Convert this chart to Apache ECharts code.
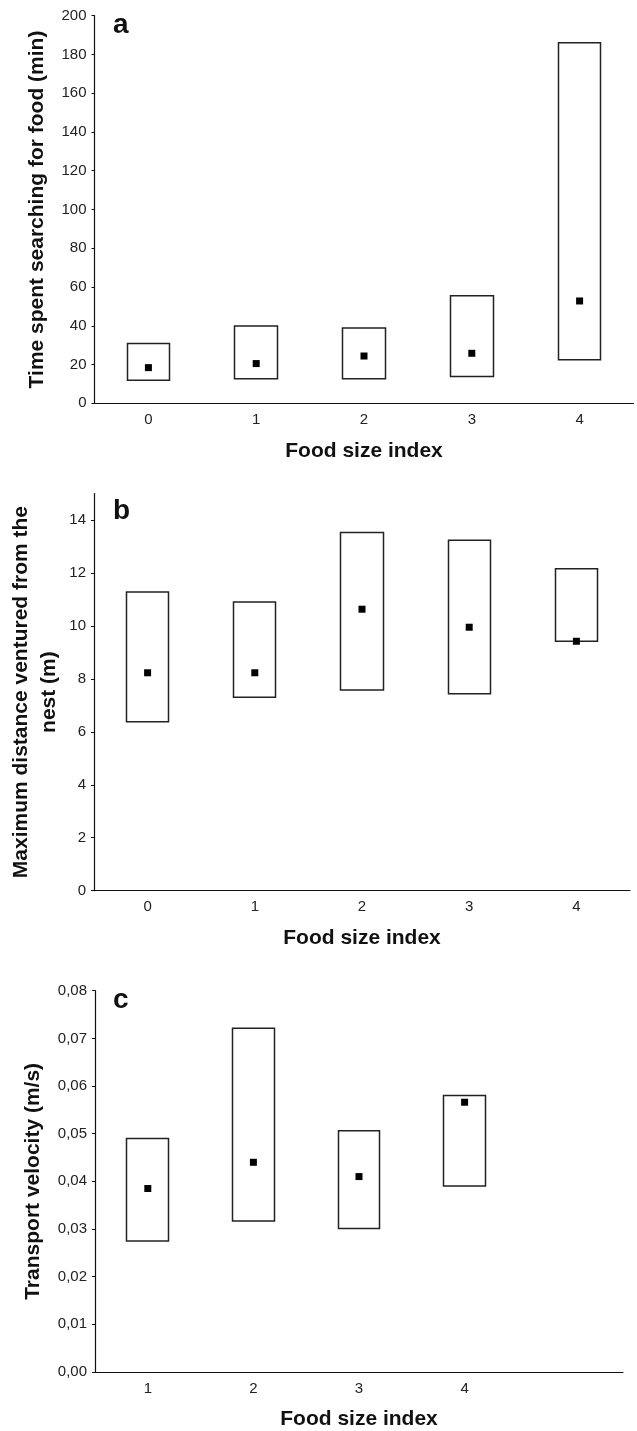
<!DOCTYPE html>
<html>
<head>
<meta charset="utf-8">
<script src="https://cdn.jsdelivr.net/npm/echarts@6/dist/echarts.min.js"></script>
<style>
  html, body { margin: 0; padding: 0; background: #fff; }
  #chart { width: 637px; height: 1431px; }
</style>
</head>
<body>
<div id="chart"></div>
<script>
// panel a - time searching for food
const catsA = ['0', '1', '2', '3', '4']
const lowA = [11.9, 12.7, 12.7, 13.8, 22.5]
const highA = [30.8, 39.9, 38.9, 55.5, 186.1]
const meanA = [18.4, 20.5, 24.4, 25.8, 52.8]

// panel b - max distance from the nest
const catsB = ['0', '1', '2', '3', '4']
const lowB = [6.38, 7.31, 7.58, 7.44, 9.42]
const highB = [11.28, 10.9, 13.53, 13.23, 12.16]
const meanB = [8.23, 8.23, 10.63, 9.95, 9.42]
const ticksB = [0, 2, 4, 6, 8, 10, 12, 14]

// panel c - transport velocity (last slot is empty)
const catsC = ['1', '2', '3', '4', '']
const lowC = [0.0275, 0.0317, 0.0301, 0.039]
const highC = [0.049, 0.0721, 0.0506, 0.058]
const meanC = [0.0385, 0.044, 0.041, 0.0566]

const FONT = 'Liberation Sans, Arial, sans-serif'
const chart = echarts.init(document.getElementById('chart'), null, { renderer: 'canvas' })

// candlestick with open=low, close=high gives a plain box
const boxes = (low, high) => low.map((v, i) => [v, high[i], v, high[i]])

const xAxisBase = (idx, cats) => ({
  type: 'category',
  gridIndex: idx,
  data: cats,
  boundaryGap: true,
  name: 'Food size index',
  nameLocation: 'middle',
  nameGap: 37,
  nameMoveOverlap: false,
  nameTextStyle: { fontFamily: FONT, fontSize: 21, fontWeight: 'bold', color: '#111' },
  axisLine: { lineStyle: { color: '#111', width: 1.2 } },
  axisTick: { alignWithLabel: true, interval: 0, inside: true, length: 3, lineStyle: { color: '#111' } },
  axisLabel: { fontFamily: FONT, fontSize: 15, color: '#222', margin: 9, interval: 0 },
  splitLine: { show: false }
})

const yAxisBase = (idx) => ({
  type: 'value',
  gridIndex: idx,
  nameLocation: 'middle',
  nameMoveOverlap: false,
  nameTextStyle: { fontFamily: FONT, fontSize: 21, fontWeight: 'bold', color: '#111', lineHeight: 28 },
  axisLine: { show: true, lineStyle: { color: '#111', width: 1.2 } },
  axisTick: { show: true, length: 3, lineStyle: { color: '#111' } },
  axisLabel: { fontFamily: FONT, fontSize: 15, color: '#222', margin: 8 },
  splitLine: { show: false }
})

const boxSeries = (idx, low, high) => ({
  type: 'candlestick',
  xAxisIndex: idx,
  yAxisIndex: idx,
  data: boxes(low, high),
  barWidth: '40%',
  itemStyle: {
    color: '#fff', color0: '#fff',
    borderColor: '#222', borderColor0: '#222',
    borderWidth: 1.5
  },
  emphasis: { disabled: true },
  silent: true
})

const meanSeries = (idx, mean) => ({
  type: 'scatter',
  xAxisIndex: idx,
  yAxisIndex: idx,
  data: mean,
  symbol: 'rect',
  symbolSize: 7,
  itemStyle: { color: '#000', opacity: 1 },
  z: 5,
  silent: true
})

const panelLetter = (text, top) => ({
  text,
  left: 113,
  top,
  padding: 0,
  textStyle: { fontFamily: FONT, fontSize: 28, fontWeight: 'bold', color: '#111' }
})

const option = {
  animation: false,
  backgroundColor: '#fff',
  title: [panelLetter('a', 11), panelLetter('b', 497), panelLetter('c', 986)],
  grid: [
    { left: 94.5, top: 15.7, width: 539, height: 387.6, containLabel: false, outerBoundsMode: 'none' },
    { left: 94, top: 493.5, width: 536, height: 397.2, containLabel: false, outerBoundsMode: 'none' },
    { left: 95, top: 990.7, width: 528, height: 381.3, containLabel: false, outerBoundsMode: 'none' }
  ],
  xAxis: [xAxisBase(0, catsA), xAxisBase(1, catsB), xAxisBase(2, catsC)],
  yAxis: [
    Object.assign(yAxisBase(0), {
      min: 0, max: 200, interval: 20,
      name: 'Time spent searching for food (min)',
      nameGap: 43
    }),
    Object.assign(yAxisBase(1), {
      min: 0, max: 15, interval: 2,
      name: 'Maximum distance ventured from the\nnest (m)',
      nameGap: 31,
      axisTick: { show: true, length: 3, customValues: ticksB, lineStyle: { color: '#111' } },
      axisLabel: { fontFamily: FONT, fontSize: 15, color: '#222', margin: 8, customValues: ticksB }
    }),
    Object.assign(yAxisBase(2), {
      min: 0, max: 0.08, interval: 0.01,
      name: 'Transport velocity (m/s)',
      nameGap: 48,
      axisLabel: {
        fontFamily: FONT, fontSize: 15, color: '#222', margin: 8,
        formatter: (v) => v.toFixed(2).replace('.', ',')
      }
    })
  ],
  series: [
    boxSeries(0, lowA, highA), meanSeries(0, meanA),
    boxSeries(1, lowB, highB), meanSeries(1, meanB),
    boxSeries(2, lowC, highC), meanSeries(2, meanC)
  ]
}

chart.setOption(option)
</script>
</body>
</html>
